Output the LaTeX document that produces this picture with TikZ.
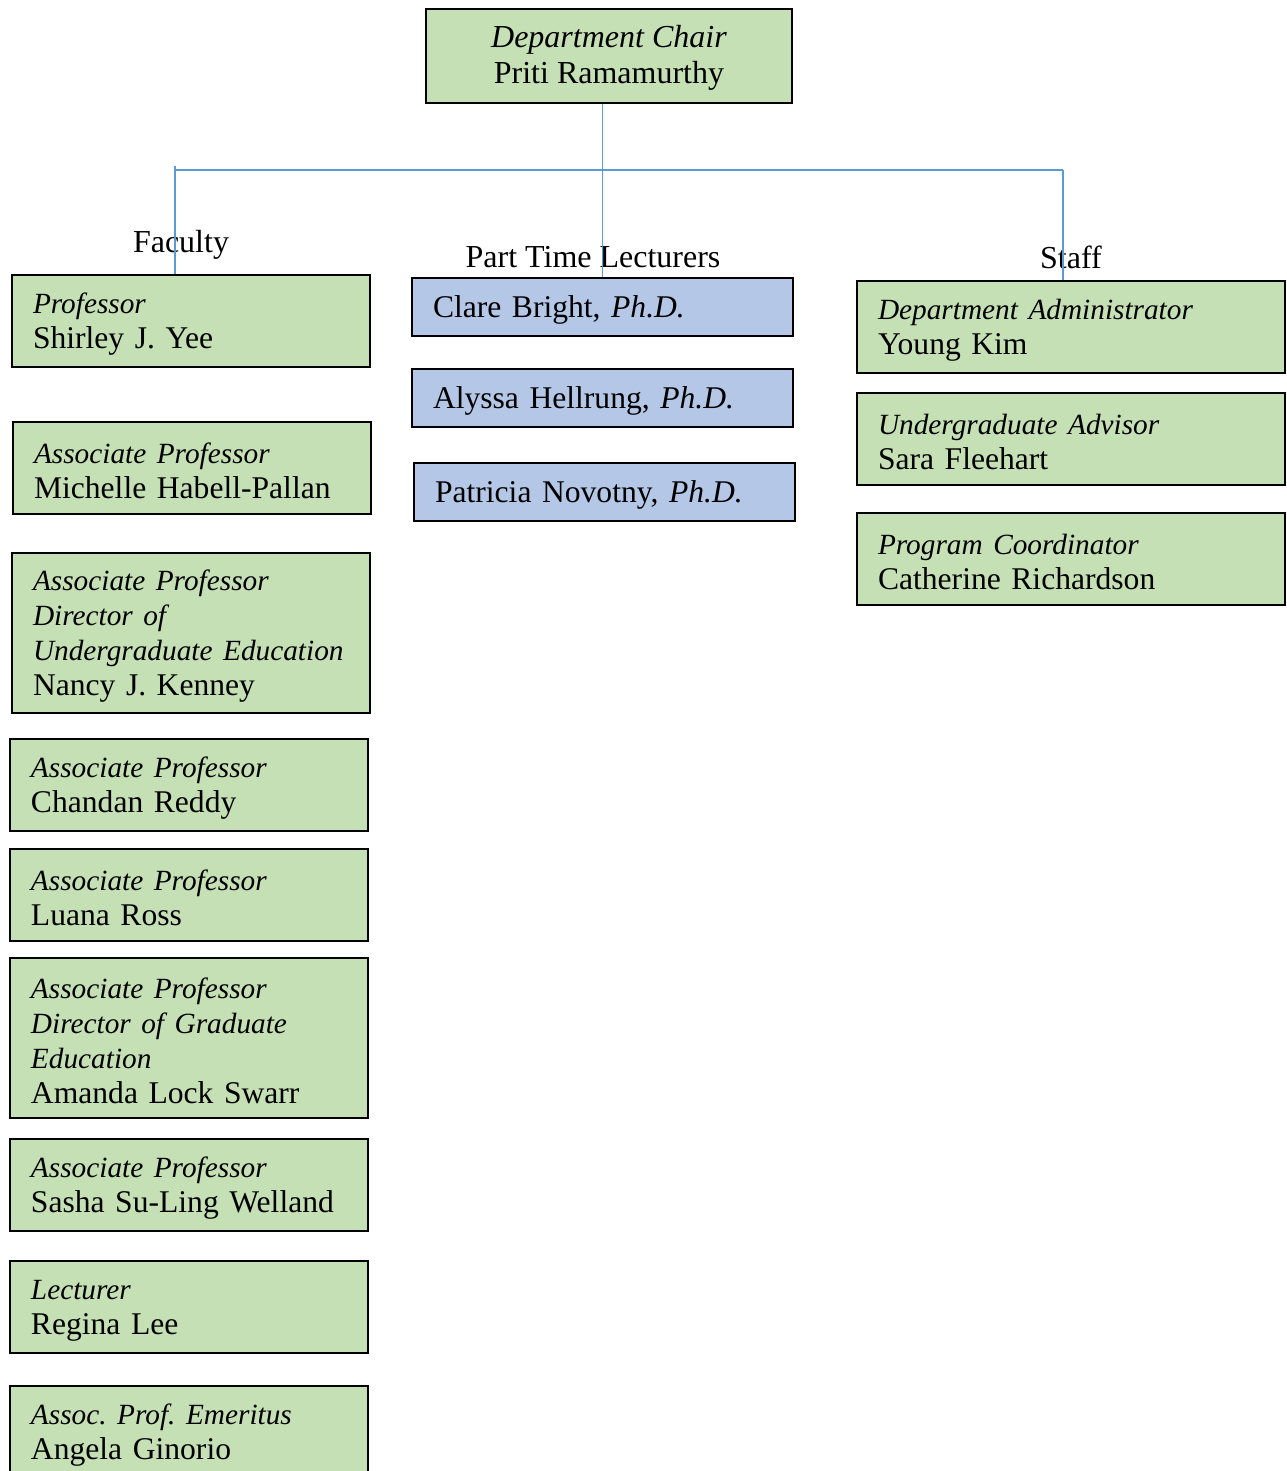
\documentclass[tikz,border=0pt]{standalone}
\usepackage{fontspec}
\setmainfont{Liberation Serif}
\definecolor{boxgreen}{HTML}{C5E0B4}
\definecolor{boxblue}{HTML}{B4C7E7}
\definecolor{connblue}{HTML}{5B9BD5}
\newcommand{\ttl}[1]{{\fontsize{14.65pt}{17.25pt}\selectfont\itshape #1}}
\begin{document}
\frenchspacing
\begin{tikzpicture}[x=0.5pt,y=-0.5pt,
  basebox/.style={draw=black, line width=1pt, anchor=north west, align=left,
    inner xsep=10.5pt, inner ysep=0pt,
    font=\frenchspacing\fontsize{15.8pt}{17.5pt}\selectfont},
  facbox/.style={basebox, fill=boxgreen, text width=158pt, text height=13pt, minimum height=#1},
  facbox/.default=46pt,
  lecbox/.style={basebox, fill=boxblue, text width=169.5pt, text height=13.8pt, minimum height=29pt},
  staffbox/.style={basebox, fill=boxgreen, text width=193pt, text height=13pt, minimum height=46pt},
  chairbox/.style={draw=black, line width=1pt, fill=boxgreen, anchor=north west,
    align=center, minimum width=183pt, minimum height=47pt, inner sep=0pt,
    font=\fontsize{16pt}{18pt}\selectfont},
  grouplabel/.style={anchor=base, inner sep=0pt, font=\fontsize{16pt}{18pt}\selectfont},
  conn/.style={draw=connblue, line width=0.75pt}]
\useasboundingbox (0,0) rectangle (1286,1471);

% chair
\node[chairbox] (chair) at (425,8) {\rule{0pt}{12.9pt}\textit{Department Chair}\\Priti Ramamurthy};

% group labels
\node[grouplabel] (lfac) at (181,252) {Faculty};
\node[grouplabel] (llec) at (593,267) {Part Time Lecturers};
\node[grouplabel] (lstaff) at (1071,268) {Staff};

% faculty
\node[facbox] (prof) at (11,274) {\ttl{Professor}\\Shirley J. Yee};
\node[facbox] (habell) at (12,421) {\ttl{Associate Professor}\\Michelle Habell-Pallan};
\node[facbox=80pt] (kenney) at (11,552) {\ttl{Associate Professor}\\\ttl{Director of}\\\ttl{Undergraduate Education}\\Nancy J. Kenney};
\node[facbox] (reddy) at (9,738) {\ttl{Associate Professor}\\Chandan Reddy};
\node[facbox] (ross) at (9,848) {\ttl{Associate Professor}\\Luana Ross};
\node[facbox=80pt] (swarr) at (9,957) {\ttl{Associate Professor}\\\ttl{Director of Graduate}\\\ttl{Education}\\Amanda Lock Swarr};
\node[facbox] (welland) at (9,1138) {\ttl{Associate Professor}\\Sasha Su-Ling Welland};
\node[facbox] (lee) at (9,1260) {\ttl{Lecturer}\\Regina Lee};
\node[facbox] (ginorio) at (9,1385) {\ttl{Assoc. Prof. Emeritus}\\Angela Ginorio};

% lecturers
\node[lecbox] (bright) at (411,277) {Clare Bright, \textit{Ph.D.}};
\node[lecbox] (hellrung) at (411,368) {Alyssa Hellrung, \textit{Ph.D.}};
\node[lecbox] (novotny) at (413,462) {Patricia Novotny, \textit{Ph.D.}};

% staff
\node[staffbox] (kim) at (856,280) {\ttl{Department Administrator}\\Young Kim};
\node[staffbox] (fleehart) at (856,392) {\ttl{Undergraduate Advisor}\\Sara Fleehart};
\node[staffbox] (richardson) at (856,512) {\ttl{Program Coordinator}\\Catherine Richardson};

% connectors
\coordinate (hl) at (175,170);
\coordinate (hr) at (1063,170);
\coordinate (ftop) at (175,166);
\draw[conn] (chair.south -| bright.north) -- (bright.north);
\draw[conn] (hl) -- (hr);
\draw[conn] (ftop) -- (ftop |- prof.north);
\draw[conn] (hr) -- (hr |- kim.north);
\end{tikzpicture}
\end{document}
